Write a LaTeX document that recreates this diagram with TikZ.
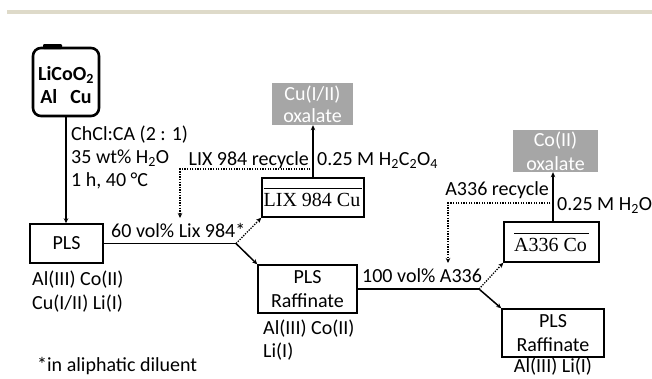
\documentclass[tikz,border=0pt]{standalone}
\usepackage{fontspec}
\setmainfont{Carlito}
\newfontfamily\serifbox{Liberation Serif}
\usetikzlibrary{arrows.meta}
\definecolor{barcol}{HTML}{DEDAC9}
\definecolor{oxgray}{HTML}{A6A6A6}
\newcommand{\barred}[1]{\vbox{\hrule height 1.1pt\kern 4pt\hbox{\serifbox #1\hspace{2pt}}}}
\begin{document}
\begin{tikzpicture}[x=1pt,y=-1pt, font=\fontsize{20}{24}\selectfont,
  box/.style={draw, line width=1.5pt, inner sep=0pt, align=center},
  ox/.style={fill=oxgray, text=white, inner sep=0pt, align=center},
  conn/.style={line width=1.5pt, -{Stealth[length=5pt,width=4.5pt]}},
  recyc/.style={line width=1.3pt, dash pattern=on 1.3pt off 1.3pt, -{Stealth[length=5pt,width=4.5pt]}},
  plain/.style={line width=1.5pt},
  lbl/.style={inner sep=0pt, anchor=base west}]
\useasboundingbox (0,0) rectangle (652,378);
\fill[barcol] (7,10) rectangle (652,14);

% battery
\node[draw, line width=2.6pt, rounded corners=8pt, minimum width=66pt, minimum height=68pt, inner sep=0pt] (bat) at (66,82) {};
\fill[rounded corners=1pt] (43,49) rectangle (62,44);
\node[inner sep=0pt, anchor=base, font=\fontsize{20}{24}\selectfont\bfseries] (bat1) at (66,80) {LiCoO\textsubscript{2}};
\node[inner sep=0pt, anchor=base, font=\fontsize{20}{24}\selectfont\bfseries] (bat2) at (66,103) {Al\hspace{13pt}Cu};

% boxes
\node[box, minimum width=73pt, minimum height=39pt] (pls) at (66.5,243.5) {PLS};
\node[box, minimum width=99pt, minimum height=48pt] (raf1) at (307.5,289) {PLS\\Raffinate};
\node[box, minimum width=102pt, minimum height=48pt] (raf2) at (553,333) {PLS\\Raffinate};
\node[box, minimum width=102pt, minimum height=39pt] (lixcu) at (313,197.5) {\barred{LIX 984 Cu}};
\node[box, minimum width=95pt, minimum height=40pt] (a336co) at (551.5,242) {\barred{A336 Co}};
\node[ox, minimum width=81pt, minimum height=42pt] (cuox) at (312.5,104) {\raisebox{-2pt}{Cu(I/II)}\\oxalate};
\node[ox, minimum width=85pt, minimum height=42pt] (coox) at (555.5,151) {Co(II)\\oxalate};

% connectors
\draw[conn] (bat.south) -- (bat.south |- pls.north);
\coordinate (b1) at (236,243.5);
\draw[plain] (pls.east) -- (b1);
\draw[conn] (b1) -- (raf1.north west);
\draw[recyc] (b1) -- (lixcu.south west);
\draw[conn] (lixcu.north) -- (lixcu.north |- cuox.south);
\coordinate (r1) at (313,169);
\coordinate (d1) at (180,218);
\draw[recyc] (r1) -| (d1);

\coordinate (b2) at (479,289);
\draw[plain] (raf1.east) -- (b2);
\draw[conn] (b2) -- (raf2.north west);
\draw[recyc] (b2) -- (a336co.south west);
\draw[conn] ([xshift=1.5pt]a336co.north) -- ([xshift=1.5pt]a336co.north |- coox.south);
\coordinate (r2) at (553,203);
\coordinate (d2) at (448,263);
\draw[recyc] (r2) -| (d2);

% labels
\node[lbl] (chcl) at (71,140) {ChCl:CA (2 : 1)};
\node[lbl] (wt) at (71,163) {35 wt\% H\textsubscript{2}O};
\node[lbl] (temp) at (71,186) {1 h, 40 °C};
\node[inner sep=0pt, anchor=base east] (lixrec) at (309,165) {LIX 984 recycle};
\node[lbl] (oxacid) at (317,165) {0.25 M H\textsubscript{2}C\textsubscript{2}O\textsubscript{4}};
\node[lbl] (sixty) at (111,237) {60 vol\% Lix 984*};
\node[lbl] (plsions1) at (32,285) {Al(III) Co(II)};
\node[lbl] (plsions2) at (32,309) {Cu(I/II) Li(I)};
\node[lbl] (note) at (37,371) {*in aliphatic diluent};
\node[lbl] (rafions1) at (263,334) {Al(III) Co(II)};
\node[lbl] (rafions2) at (263,357) {Li(I)};
\node[lbl] (hundred) at (362,282) {100 vol\% A336};
\node[inner sep=0pt, anchor=base] (raf2ions) at (553,372.5) {Al(III) Li(I)};
\node[inner sep=0pt, anchor=base east] (a336rec) at (549,195) {A336 recycle};
\node[lbl] (water) at (557,210) {0.25 M H\textsubscript{2}O};
\end{tikzpicture}
\end{document}
